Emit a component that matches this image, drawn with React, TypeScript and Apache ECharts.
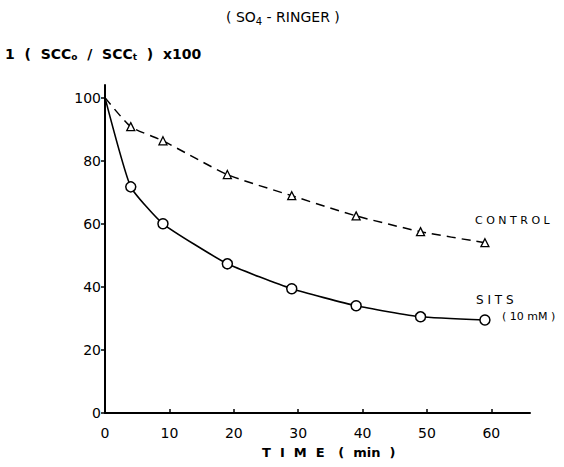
import React, { useEffect, useRef } from "react";
import * as echarts from "echarts";

const times = [0, 4, 9, 19, 29, 39, 49, 59];
const controlValues = [100, 90.8, 86.3, 75.6, 68.9, 62.5, 57.5, 54];
const sitsValues = [100, 71.7, 60, 47.3, 39.4, 34, 30.5, 29.5];
const xTicks = [0, 10, 20, 30, 40, 50, 60];
const yTicks = [0, 20, 40, 60, 80, 100];

const FONT = "DejaVu Sans";

function buildData(vals: number[]) {
  return times.map((t, i) =>
    i === 0 ? { value: [t, vals[i]], symbol: "none" } : { value: [t, vals[i]] }
  );
}

export default function App() {
  const ref = useRef<HTMLDivElement>(null);
  useEffect(() => {
    if (!ref.current) return;
    const chart = echarts.init(ref.current, null, { renderer: "svg" });
    chart.setOption({
      animation: false,
      backgroundColor: "#ffffff",
      textStyle: { fontFamily: FONT, color: "#000" },
      grid: { left: 105, right: 34, top: 85, bottom: 54, containLabel: false },
      xAxis: {
        type: "value",
        min: 0,
        max: 66,
        interval: 10,
        axisLine: { show: true, lineStyle: { color: "#000", width: 2 } },
        axisTick: { show: true, inside: true, length: 4, customValues: xTicks, lineStyle: { color: "#000", width: 1.5 } },
        axisLabel: { customValues: xTicks, color: "#000", fontSize: 14, fontFamily: FONT, margin: 13 },
        splitLine: { show: false },
      },
      yAxis: {
        type: "value",
        min: 0,
        max: 104,
        interval: 20,
        axisLine: { show: true, lineStyle: { color: "#000", width: 2 } },
        axisTick: { show: true, length: 4, customValues: yTicks, lineStyle: { color: "#000", width: 1.5 } },
        axisLabel: { customValues: yTicks, color: "#000", fontSize: 14, fontFamily: FONT, margin: 4 },
        splitLine: { show: false },
      },
      graphic: [
        {
          type: "text",
          left: 226,
          top: 10,
          style: {
            text: "( SO{s|4} - RINGER )",
            font: `14px ${FONT}`,
            fill: "#000",
            rich: { s: { fontSize: 10, verticalAlign: "bottom", padding: [8, 0, 0, 0], fontFamily: FONT } },
          },
        },
        {
          type: "text",
          left: 5,
          top: 47,
          style: {
            text: "1  (  SCC{s|o}  /  SCC{s|t}  )  x100",
            font: `bold 14px ${FONT}`,
            fill: "#000",
            rich: { s: { fontSize: 9, padding: [6, 0, 0, 0], fontFamily: FONT, fontWeight: "bold" } },
          },
        },
        {
          type: "text",
          left: 262,
          top: 446,
          style: { text: "T  I  M  E   (  min  )", font: `bold 13px ${FONT}`, fill: "#000" },
        },
        { type: "text", left: 475, top: 215, style: { text: "C O N T R O L", font: `11px ${FONT}`, fill: "#000" } },
        { type: "text", left: 476, top: 294, style: { text: "S I T S", font: `12px ${FONT}`, fill: "#000" } },
        { type: "text", left: 502, top: 311, style: { text: "( 10 mM )", font: `11px ${FONT}`, fill: "#000" } },
      ],
      series: [
        {
          type: "line",
          name: "CONTROL",
          data: buildData(controlValues),
          smooth: 0.2,
          symbol: "triangle",
          symbolSize: 8,
          lineStyle: { color: "#000", width: 1.5, type: [9, 6] },
          itemStyle: { color: "#fff", borderColor: "#000", borderWidth: 1.3 },
        },
        {
          type: "line",
          name: "SITS",
          data: buildData(sitsValues),
          smooth: 0.15,
          symbol: "circle",
          symbolSize: 10,
          lineStyle: { color: "#000", width: 1.6 },
          itemStyle: { color: "#fff", borderColor: "#000", borderWidth: 1.5 },
        },
      ],
    });
    return () => chart.dispose();
  }, []);
  return (
    <div
      ref={ref}
      style={{ position: "fixed", left: 0, top: 0, width: 564, height: 467 }}
    />
  );
}
